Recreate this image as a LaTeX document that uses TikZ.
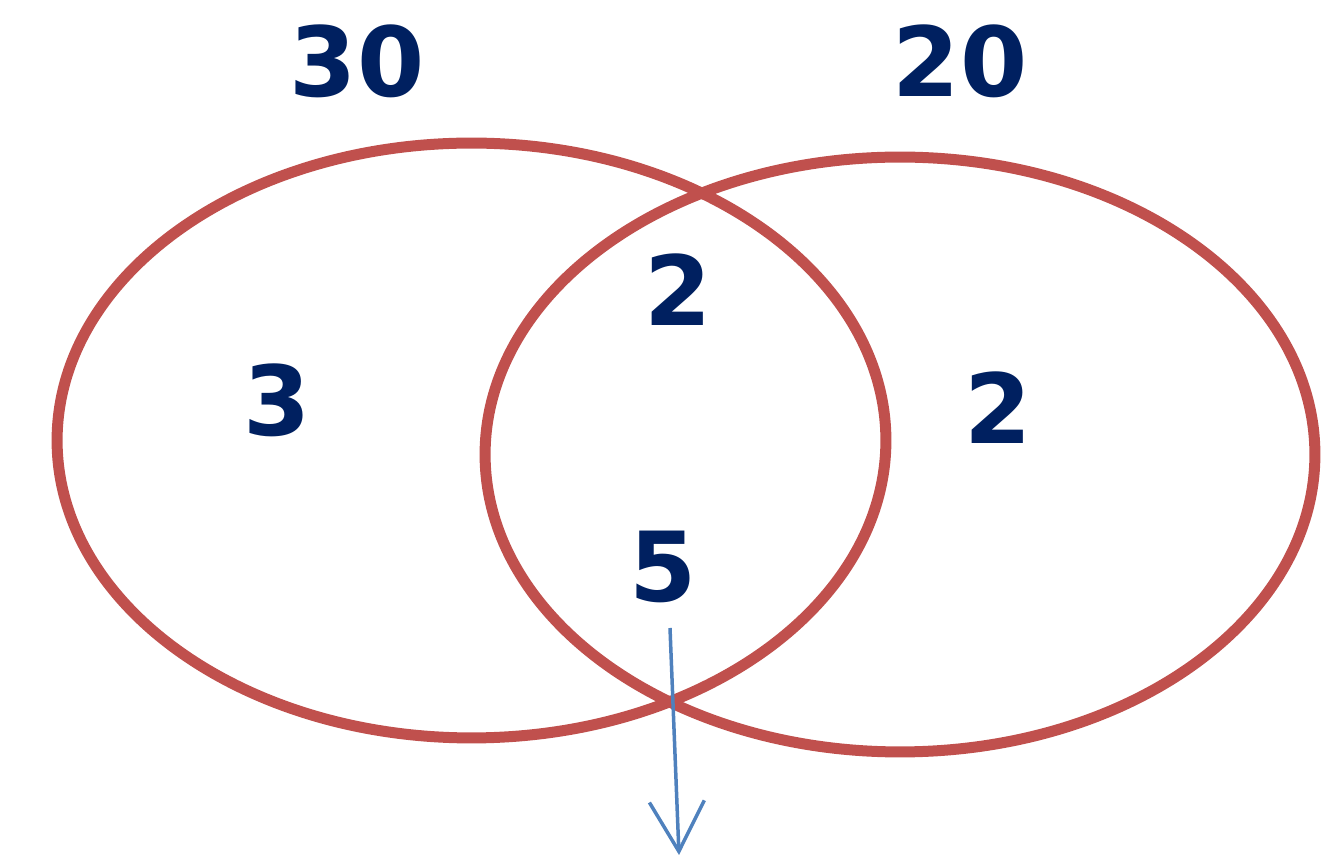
\documentclass[tikz,border=0pt]{standalone}
\usepackage{fontspec}
\setmainfont{DejaVu Sans}
\usetikzlibrary{arrows.meta, positioning}
\definecolor{vennred}{HTML}{C0504D}
\definecolor{numblue}{HTML}{002060}
\definecolor{arrblue}{HTML}{4F81BD}
\tikzset{
  setring/.style={draw=vennred,line width=0.22cm},
  setnum/.style={text=numblue,font=\fontsize{55}{60}\selectfont\bfseries,inner sep=0pt,anchor=center},
  arr/.style={-{Straight Barb[length=1cm,width=1.1cm,line width=0.07cm]},line width=0.07cm,draw=arrblue}
}
\begin{document}
\begin{tikzpicture}[x=0.02cm,y=-0.02cm]
  \useasboundingbox (0,0) rectangle (1330,864);

  % the two sets
  \draw[setring] (471.5,440.5) ellipse [x radius=8.29cm,y radius=5.95cm];
  \draw[setring] (900,454.5) ellipse [x radius=8.3cm,y radius=5.95cm];

  % totals
  \node[setnum] (totA) at (357,61) {30};
  \node[setnum] (totB) at (960,61) {20};

  % regions
  \node[setnum] (onlyA) at (277,400) {3};
  \node[setnum] (both) at (678,290) {2};
  \node[setnum] (onlyB) at (998,408) {2};
  \node[setnum] (none) at (663,567) {5};

  \coordinate (out) at (679,855);
  \draw[arr] (670,628) -- (out);

\end{tikzpicture}
\end{document}
